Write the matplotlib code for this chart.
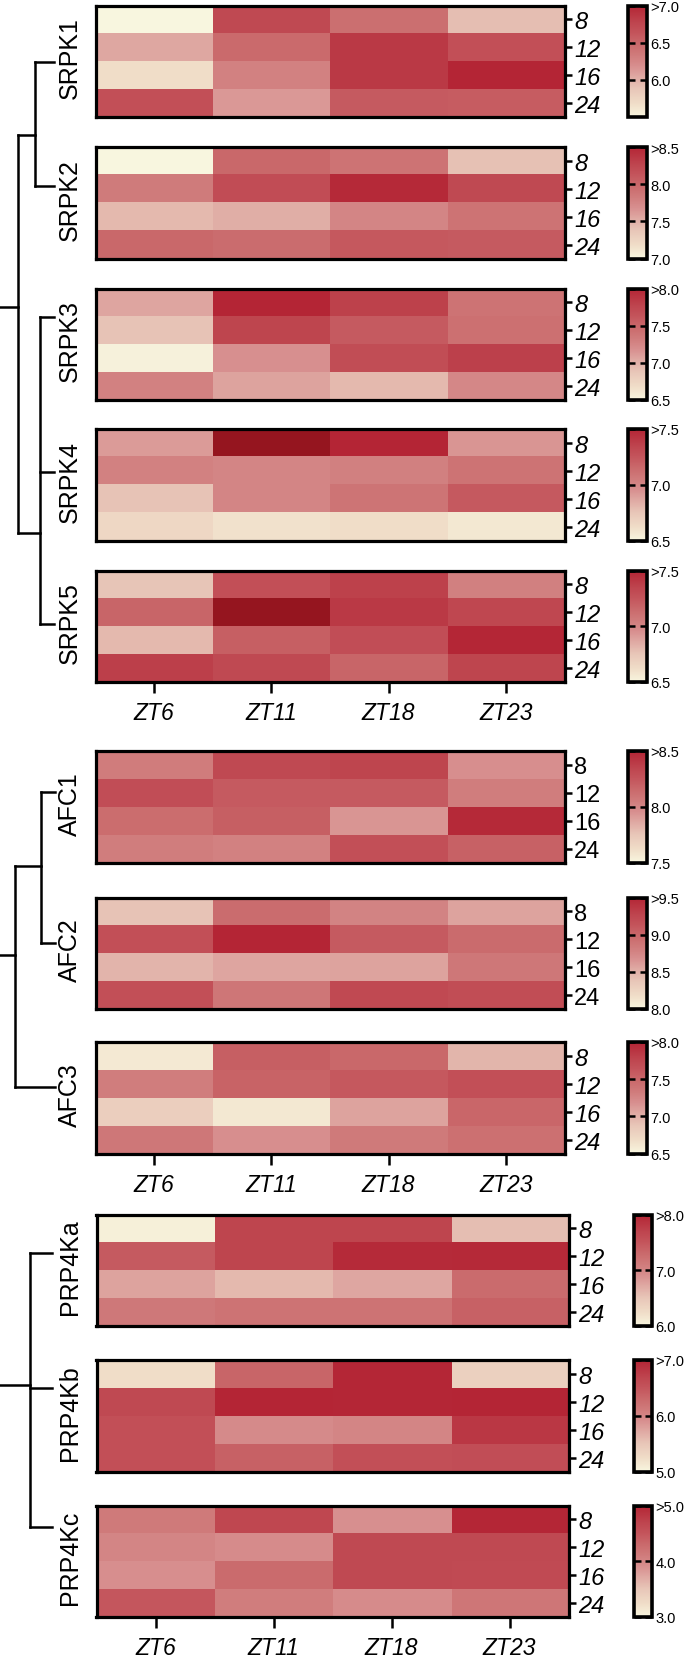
import numpy as np
import matplotlib
matplotlib.use('Agg')
import matplotlib.pyplot as plt
from matplotlib.colors import LinearSegmentedColormap, Normalize
from matplotlib.cm import ScalarMappable

plt.rcParams['font.family'] = ['Liberation Sans', 'DejaVu Sans']

# rows are 8, 12, 16, 24 ; columns ZT6, ZT11, ZT18, ZT23
times = ['ZT6', 'ZT11', 'ZT18', 'ZT23']
rows = ['8', '12', '16', '24']

srpk1 = [[5.45, 6.73, 6.43, 5.92],
         [6.05, 6.47, 6.85, 6.67],
         [5.68, 6.28, 6.85, 7.00],
         [6.67, 6.13, 6.58, 6.57]]
srpk2 = [[6.95, 7.99, 7.90, 7.40],
         [7.83, 8.20, 8.46, 8.23],
         [7.45, 7.51, 7.75, 7.90],
         [7.99, 7.95, 8.10, 8.08]]
srpk3 = [[7.06, 8.00, 7.79, 7.40],
         [6.89, 7.76, 7.58, 7.42],
         [6.53, 7.18, 7.69, 7.80],
         [7.28, 7.07, 6.95, 7.24]]
srpk4 = [[6.91, 7.80, 7.50, 6.93],
         [7.02, 7.00, 7.03, 7.10],
         [6.76, 7.00, 7.09, 7.23],
         [6.65, 6.60, 6.62, 6.57]]
srpk5 = [[6.75, 7.28, 7.36, 7.03],
         [7.17, 7.80, 7.40, 7.33],
         [6.80, 7.20, 7.29, 7.49],
         [7.37, 7.32, 7.17, 7.34]]
afc1 = [[8.05, 8.32, 8.34, 7.96],
        [8.29, 8.22, 8.22, 8.04],
        [8.13, 8.20, 7.93, 8.48],
        [8.04, 8.02, 8.28, 8.19]]
afc2 = [[8.39, 8.95, 8.77, 8.57],
        [9.17, 9.49, 9.08, 8.96],
        [8.48, 8.56, 8.57, 8.86],
        [9.17, 8.87, 9.22, 9.19]]
afc3 = [[6.59, 7.55, 7.49, 6.97],
        [7.31, 7.52, 7.60, 7.67],
        [6.80, 6.60, 7.07, 7.50],
        [7.36, 7.19, 7.34, 7.42]]
prp4ka = [[6.06, 7.68, 7.68, 6.56],
          [7.44, 7.68, 7.94, 7.96],
          [6.76, 6.60, 6.74, 7.28],
          [7.14, 7.20, 7.20, 7.38]]
prp4kb = [[5.24, 6.34, 6.98, 5.38],
          [6.64, 7.00, 6.98, 7.00],
          [6.56, 5.96, 6.00, 6.82],
          [6.56, 6.38, 6.56, 6.58]]
prp4kc = [[4.12, 4.66, 3.90, 4.98],
          [4.00, 3.94, 4.64, 4.64],
          [3.92, 4.28, 4.64, 4.62],
          [4.48, 4.08, 3.94, 4.16]]

genes = ['SRPK1', 'SRPK2', 'SRPK3', 'SRPK4', 'SRPK5',
         'AFC1', 'AFC2', 'AFC3', 'PRP4Ka', 'PRP4Kb', 'PRP4Kc']
data = [srpk1, srpk2, srpk3, srpk4, srpk5, afc1, afc2, afc3, prp4ka, prp4kb, prp4kc]
scale_min = [5.5, 7.0, 6.5, 6.5, 6.5, 7.5, 8.0, 6.5, 6.0, 5.0, 3.0]
scale_max = [7.0, 8.5, 8.0, 7.5, 7.5, 8.5, 9.5, 8.0, 8.0, 7.0, 5.0]
cb_ticks = [[6.0, 6.5, 7.0], [7.0, 7.5, 8.0, 8.5], [6.5, 7.0, 7.5, 8.0],
            [6.5, 7.0, 7.5], [6.5, 7.0, 7.5], [7.5, 8.0, 8.5],
            [8.0, 8.5, 9.0, 9.5], [6.5, 7.0, 7.5, 8.0], [6.0, 7.0, 8.0],
            [5.0, 6.0, 7.0], [3.0, 4.0, 5.0]]

cmap = LinearSegmentedColormap.from_list('cream_red', [
    (0.00, '#F8F6DF'), (0.12, '#F0DDC8'), (0.25, '#E8C6B8'), (0.35, '#E0ACA5'),
    (0.45, '#D89090'), (0.55, '#D07C7C'), (0.65, '#CA6A6C'), (0.75, '#C4555C'),
    (0.85, '#BE444E'), (1.00, '#B42535')])
cmap.set_over('#95151F')

# layout in pixels
W, H = 685, 1658
box_top = [5, 146.5, 288, 428.5, 570, 750.5, 897, 1041.5, 1214, 1359.5, 1505]
BOX_H = 114.5
stub_frac = [0.51, 0.35, 0.26, 0.39, 0.48, 0.37, 0.41, 0.41, 0.35, 0.26, 0.20]
bottom_panels = [4, 7, 10]
upright_rows = ['AFC1', 'AFC2']

fig = plt.figure(figsize=(W / 100, H / 100), dpi=100)


def px_axes(x0, y0, x1, y1):
    return fig.add_axes([x0 / W, 1 - y1 / H, (x1 - x0) / W, (y1 - y0) / H])


for i, gene in enumerate(genes):
    if gene.startswith('PRP4K'):
        hx0, hx1, cx0, cx1 = 96.5, 568.5, 633.5, 651.5
    else:
        hx0, hx1, cx0, cx1 = 95.5, 564.5, 627.5, 646.5
    y0 = box_top[i] + 1.5
    y1 = box_top[i] + BOX_H - 1.5
    norm = Normalize(vmin=scale_min[i], vmax=scale_max[i])

    ax = px_axes(hx0, y0, hx1, y1)
    ax.imshow(np.array(data[i]), cmap=cmap, norm=norm, aspect='auto',
              interpolation='nearest')
    for sp in ax.spines.values():
        sp.set_linewidth(2.3)
    ax.set_yticks(range(4))
    ax.set_yticklabels(rows)
    ax.tick_params(axis='y', left=False, labelleft=False, right=True, labelright=True,
                   direction='out', length=5, width=1.8, pad=2, labelsize=17)
    if gene not in upright_rows:
        for lbl in ax.get_yticklabels():
            lbl.set_fontstyle('italic')
    if i in bottom_panels:
        ax.set_xticks(range(4))
        ax.set_xticklabels(times, fontstyle='italic')
        ax.tick_params(axis='x', direction='out', length=8, width=1.8, pad=6,
                       labelsize=16.5)
    else:
        ax.set_xticks([])

    fig.text(70 / W, 1 - (box_top[i] + BOX_H / 2 - 4) / H, gene, rotation=90,
             ha='center', va='center', fontsize=18)

    cax = px_axes(cx0, y0, cx1, y1)
    cb = fig.colorbar(ScalarMappable(norm=norm, cmap=cmap), cax=cax)
    cb.outline.set_linewidth(2.6)
    cb.set_ticks(cb_ticks[i])
    labels = ['%.1f' % t for t in cb_ticks[i]]
    labels[-1] = '>' + labels[-1]
    cb.set_ticklabels(labels)
    cax.yaxis.set_ticks_position('both')
    cax.tick_params(axis='y', direction='in', length=5, width=1.8, pad=3,
                    labelsize=10.5, labelright=True, labelleft=False)

# dendrograms drawn in pixel space
dax = fig.add_axes([0, 0, 1, 1], zorder=-1)
dax.set_xlim(0, W)
dax.set_ylim(H, 0)
dax.axis('off')
stub = [box_top[i] + stub_frac[i] * BOX_H for i in range(len(genes))]
segs = [
    # SRPK
    [(0, 308), (18.5, 308)],
    [(18.5, 135.5), (18.5, 534)],
    [(18.5, 135.5), (35, 135.5)],
    [(35, stub[0]), (35, stub[1])],
    [(35, stub[0]), (54, stub[0])],
    [(35, stub[1]), (54, stub[1])],
    [(18.5, 534), (40, 534)],
    [(40, stub[2]), (40, stub[4])],
    [(40, stub[2]), (54, stub[2])],
    [(40, stub[3]), (54, stub[3])],
    [(40, stub[4]), (54, stub[4])],
    # AFC
    [(0, 955.5), (15, 955.5)],
    [(15, 867), (15, stub[7])],
    [(15, 867), (41, 867)],
    [(41, stub[5]), (41, stub[6])],
    [(41, stub[5]), (55, stub[5])],
    [(41, stub[6]), (55, stub[6])],
    [(15, stub[7]), (55, stub[7])],
    # PRP4K
    [(0, 1386), (30, 1386)],
    [(30, stub[8]), (30, stub[10])],
    [(30, stub[8]), (52, stub[8])],
    [(30, stub[9]), (52, stub[9])],
    [(30, stub[10]), (52, stub[10])],
]
for s in segs:
    xs, ys = zip(*s)
    dax.plot(xs, ys, color='black', lw=1.8, solid_capstyle='projecting')

fig.savefig('out.png', dpi=100)
